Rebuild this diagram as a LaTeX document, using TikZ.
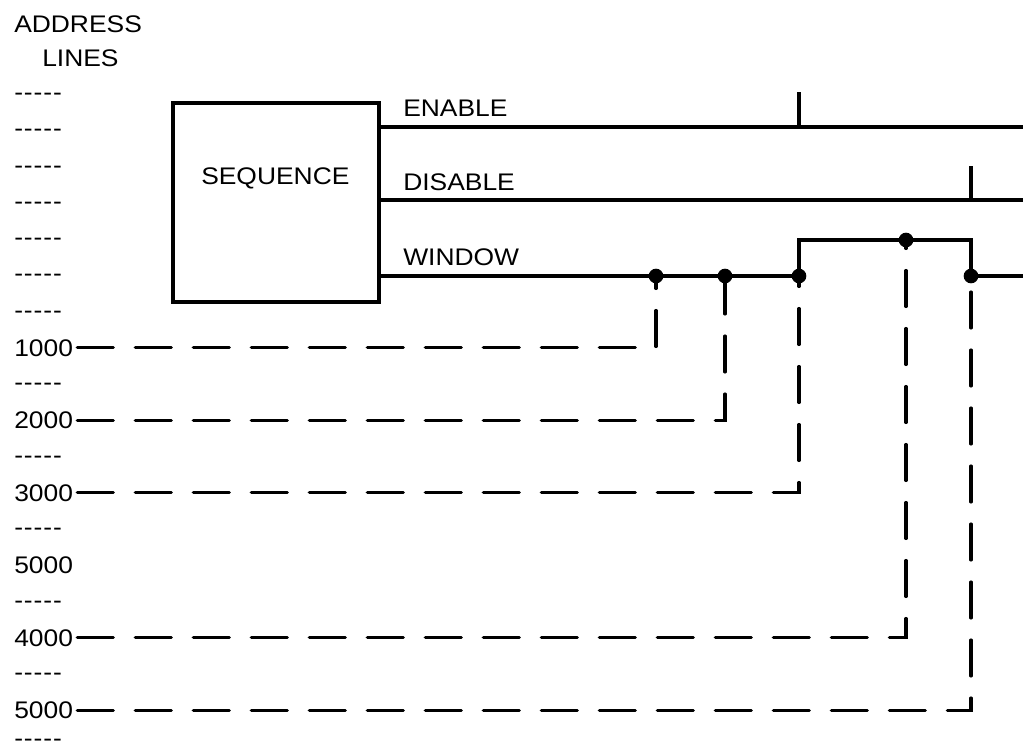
\documentclass[tikz,border=0pt]{standalone}
\usepackage{fontspec}
\setmainfont[FakeStretch=1.1]{Liberation Sans}
\newcommand\addrdash{-\kern0.7pt-\kern0.7pt-\kern0.7pt-\kern0.7pt-}

\begin{document}
\begin{tikzpicture}[x=0.75pt,y=0.75pt,yscale=-1,xscale=1,
  wire/.style={line width=2.3pt},
  addrwire/.style={line width=2.3pt,line cap=round,dash pattern={on 27pt off 16.5pt}},
  junc/.style={circle,fill,inner sep=0pt,minimum size=11pt},
  lbl/.style={anchor=base west,inner sep=0pt,font=\fontsize{18}{20}\selectfont},
  num/.style={anchor=west,inner sep=0pt,inner xsep=3pt,font=\fontsize{18}{20}\selectfont}]
\useasboundingbox (0,0) rectangle (1023,751);

% Text Node
\node [lbl] (addr) at (14,32) {ADDRESS};
% Text Node
\node [lbl] (lines) at (42,66) {LINES};

% Text Node
\node [lbl] (dsh0) at (14,100.6) {\addrdash};
\node [lbl] (dsh1) at (14,136.85) {\addrdash};
\node [lbl] (dsh2) at (14,173.1) {\addrdash};
\node [lbl] (dsh3) at (14,209.35) {\addrdash};
\node [lbl] (dsh4) at (14,245.6) {\addrdash};
\node [lbl] (dsh5) at (14,281.85) {\addrdash};
\node [lbl] (dsh6) at (14,318.1) {\addrdash};
\node [lbl] (dsh8) at (14,390.6) {\addrdash};
\node [lbl] (dsh10) at (14,463.1) {\addrdash};
\node [lbl] (dsh12) at (14,535.6) {\addrdash};
\node [lbl] (dsh14) at (14,608.1) {\addrdash};
\node [lbl] (dsh16) at (14,680.6) {\addrdash};
\node [lbl] (dsh18) at (14,746) {\addrdash};

% Text Node
\node [num] (a1000) at (10,347.75) {1000};
\node [num] (a2000) at (10,420.25) {2000};
\node [num] (a3000) at (10,492.75) {3000};
\node [num] (a5000) at (10,565.25) {5000};
\node [num] (a4000) at (10,637.75) {4000};
\node [num] (b5000) at (10,710.25) {5000};

%Shape: Rectangle
\node [draw,wire,inner sep=0pt,minimum width=154.5pt,minimum height=149.25pt] (seq) at (276,202.5) {};
% Text Node
\node [lbl] (seqtxt) at (201,184) {SEQUENCE};

% Text Node
\node [lbl] (enlbl) at (403,116) {ENABLE};
\node [lbl] (dislbl) at (403,190) {DISABLE};
\node [lbl] (winlbl) at (403,265) {WINDOW};

\coordinate (enR) at (1026,127);
\coordinate (enB) at (799,127);
\coordinate (enT) at (799,92);
\coordinate (disR) at (1026,200);
\coordinate (disB) at (971,200);
\coordinate (disT) at (971,166);
\coordinate (winR) at (1026,276);
\coordinate (winUL) at (799,240);
\coordinate (winUR) at (971,240);

%Shape: Circle
\node [junc] (j1) at (656,276) {};
\node [junc] (j2) at (725,276) {};
\node [junc] (j3) at (799,276) {};
\node [junc] (j4) at (906,240) {};
\node [junc] (j5) at (971,276) {};

%Straight Lines
\draw [wire] (seq.east |- enR) -- (enR);
\draw [wire] (enB) -- (enT);
%Straight Lines
\draw [wire] (seq.east |- disR) -- (disR);
\draw [wire] (disB) -- (disT);
%Straight Lines
\draw [wire] (seq.east |- winR) -- (j1.center) -- (j2.center) -- (j3.center) -- (winUL) -- (j4.center) -- (winUR) -- (j5.center) -- (winR);

%Dashed Lines
\draw [addrwire] (a1000.east) -| (j1.center);
\draw [addrwire] (a2000.east) -| (j2.center);
\draw [addrwire] (a3000.east) -| (j3.center);
\draw [addrwire] (a4000.east) -| (j4.center);
\draw [addrwire] (b5000.east) -| (j5.center);

\end{tikzpicture}
\end{document}
